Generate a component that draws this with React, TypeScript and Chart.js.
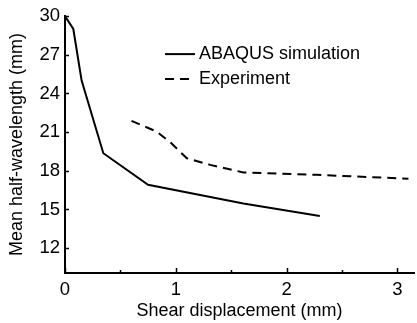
import React, { useEffect, useRef } from "react";
import { Chart, registerables } from "chart.js";

Chart.register(...registerables);

const simLabel = "ABAQUS simulation";
const simX = [0, 0.075, 0.15, 0.346, 0.75, 1.61, 2.3];
const simY = [30, 29, 25, 19.36, 16.92, 15.46, 14.49];

const expLabel = "Experiment";
const expX = [0.6, 0.83, 0.96, 1.1, 1.31, 1.61, 2.27, 3.1];
const expY = [21.87, 21.03, 20.13, 18.97, 18.46, 17.87, 17.69, 17.38];

const xTicks = [0, 0.5, 1, 1.5, 2, 2.5, 3];
const yTicks = [12, 15, 18, 21, 24, 27, 30];
const xTitle = "Shear displacement (mm)";
const yTitle = "Mean half-wavelength (mm)";

const FONT = "'Liberation Sans', Arial, sans-serif";

const tickPlugin = {
  id: "inwardTicks",
  afterDatasetsDraw(chart: any) {
    const { ctx, chartArea, scales } = chart;
    const xs = scales.x;
    const ys = scales.y;
    ctx.save();
    ctx.strokeStyle = "#000";
    ctx.lineWidth = 1.5;
    ctx.beginPath();
    xTicks.forEach((v) => {
      const px = Math.round(xs.getPixelForValue(v)) + 0.5;
      const len = Number.isInteger(v) ? 5 : 3;
      ctx.moveTo(px, chartArea.bottom);
      ctx.lineTo(px, chartArea.bottom - len);
    });
    yTicks.forEach((v) => {
      const py = Math.round(ys.getPixelForValue(v)) + 0.5;
      ctx.moveTo(chartArea.left, py);
      ctx.lineTo(chartArea.left + 4, py);
    });
    ctx.stroke();

    // legend
    const lx = chartArea.left + 100;
    const rows = [
      { y: chartArea.top + 38, ds: chart.data.datasets[0] },
      { y: chartArea.top + 63, ds: chart.data.datasets[1] },
    ];
    ctx.font = `18px ${FONT}`;
    ctx.fillStyle = "#000";
    ctx.textBaseline = "middle";
    ctx.textAlign = "left";
    rows.forEach((r) => {
      ctx.beginPath();
      ctx.lineWidth = 2;
      ctx.setLineDash(r.ds.borderDash || []);
      ctx.moveTo(lx, r.y);
      ctx.lineTo(lx + 30, r.y);
      ctx.stroke();
      ctx.setLineDash([]);
      ctx.fillText(r.ds.label, lx + 34, r.y);
    });
    ctx.restore();
  },
};

export default function App() {
  const ref = useRef<HTMLCanvasElement | null>(null);
  useEffect(() => {
    if (!ref.current) return;
    const chart = new Chart(ref.current, {
      type: "line",
      data: {
        datasets: [
          {
            label: simLabel,
            data: simX.map((x, i) => ({ x, y: simY[i] })),
            borderColor: "#000",
            borderWidth: 2,
            pointRadius: 0,
            tension: 0,
            fill: false,
          },
          {
            label: expLabel,
            data: expX.map((x, i) => ({ x, y: expY[i] })),
            borderColor: "#000",
            borderWidth: 2,
            borderDash: [9, 6],
            pointRadius: 0,
            tension: 0,
            fill: false,
          },
        ],
      },
      options: {
        animation: false,
        responsive: false,
        layout: { padding: { top: 15, right: 3, left: 0, bottom: 0 } },
        plugins: { legend: { display: false }, tooltip: { enabled: false } },
        scales: {
          x: {
            type: "linear",
            min: 0,
            max: 3.15,
            grid: { display: false, drawTicks: false },
            border: { display: true, color: "#000", width: 2 },
            afterBuildTicks: (s: any) => {
              s.ticks = xTicks.map((v) => ({ value: v }));
            },
            afterFit: (s: any) => {
              s.height = 50;
            },
            ticks: {
              color: "#000",
              font: { family: FONT, size: 18.5 },
              padding: 6,
              maxRotation: 0,
              autoSkip: false,
              callback: (v: any) => (Number.isInteger(v) ? String(v) : ""),
            },
            title: {
              display: true,
              text: xTitle,
              color: "#000",
              font: { family: FONT, size: 18 },
              padding: { top: 0, bottom: 1 },
            },
          },
          y: {
            type: "linear",
            min: 10.07,
            max: 30,
            grid: { display: false, drawTicks: false },
            border: { display: true, color: "#000", width: 2 },
            afterBuildTicks: (s: any) => {
              s.ticks = yTicks.map((v) => ({ value: v }));
            },
            afterFit: (s: any) => {
              s.width = 65;
            },
            ticks: {
              color: "#000",
              font: { family: FONT, size: 18.5 },
              padding: 5,
              autoSkip: false,
            },
            title: {
              display: true,
              text: yTitle,
              color: "#000",
              font: { family: FONT, size: 18 },
              padding: { top: 6, bottom: 0 },
            },
          },
        },
      },
      plugins: [tickPlugin],
    });
    return () => chart.destroy();
  }, []);
  return (
    <div style={{ position: "fixed", left: 0, top: 0, width: 417, height: 323, background: "#fff" }}>
      <canvas ref={ref} width={417} height={323} />
    </div>
  );
}
